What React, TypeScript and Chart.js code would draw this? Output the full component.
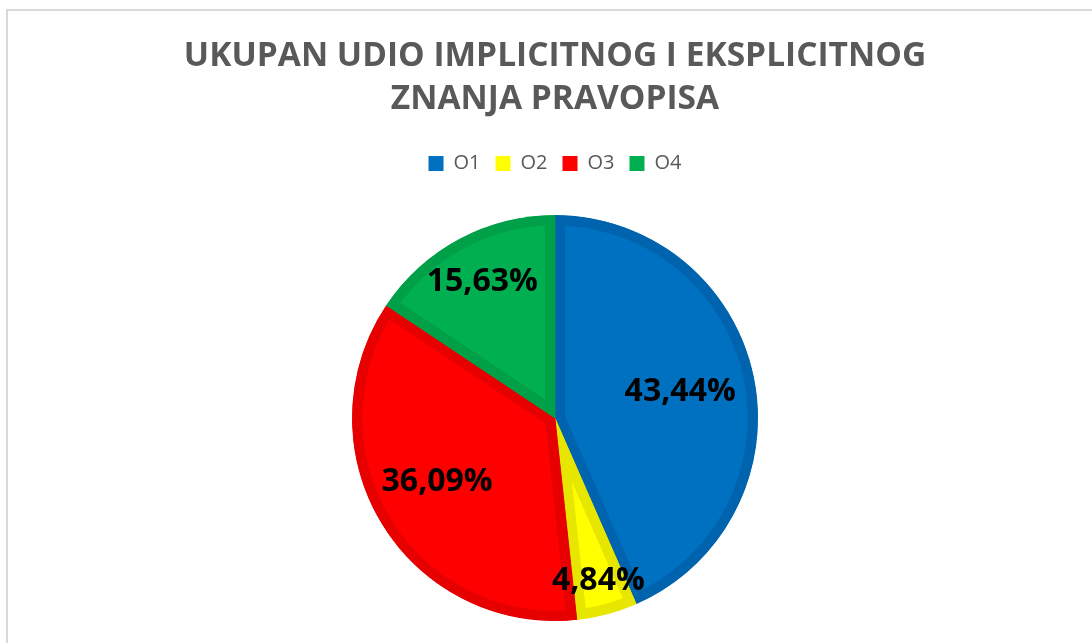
import React, { useEffect, useRef } from "react";
import { Chart, registerables } from "chart.js";

Chart.register(...registerables);

const categories = ["O1", "O2", "O3", "O4"];
const values = [43.44, 4.84, 36.09, 15.63];
const valueLabels = ["43,44%", "4,84%", "36,09%", "15,63%"];
const titleLines = ["UKUPAN UDIO IMPLICITNOG I EKSPLICITNOG", "ZNANJA PRAVOPISA"];

const fillColors = ["#0070C0", "#FFFF00", "#FF0000", "#00B050"];
const borderColors = ["#0063AE", "#E6E600", "#E60000", "#00A048"];
const labelRadiusFractions = [0.63, 0.83, 0.66, 0.76];

const labelPlugin = {
  id: "sliceLabels",
  afterDatasetsDraw(chart: any) {
    const meta = chart.getDatasetMeta(0);
    const ctx = chart.ctx;
    ctx.save();
    ctx.font = "bold 32px 'Open Sans'";
    ctx.fillStyle = "#000000";
    ctx.textAlign = "center";
    ctx.textBaseline = "middle";
    meta.data.forEach((arc: any, i: number) => {
      const p = arc.getProps(["x", "y", "startAngle", "endAngle", "outerRadius"], true);
      const mid = (p.startAngle + p.endAngle) / 2 + (i === 2 ? 0.05 : 0);
      const r = p.outerRadius * labelRadiusFractions[i];
      ctx.fillText(valueLabels[i], p.x + Math.cos(mid) * r, p.y + Math.sin(mid) * r);
    });
    ctx.restore();
  },
};

export default function App() {
  const canvasRef = useRef<HTMLCanvasElement | null>(null);

  useEffect(() => {
    document.body.style.margin = "0";
    const canvas = canvasRef.current;
    if (!canvas) return;
    const chart = new Chart(canvas, {
      type: "pie",
      data: {
        labels: categories,
        datasets: [
          {
            data: values,
            backgroundColor: fillColors,
            borderColor: borderColors,
            borderWidth: 10,
            borderAlign: "inner",
          } as any,
        ],
      },
      options: {
        responsive: false,
        animation: false,
        radius: 203,
        layout: { padding: { left: 18, right: 0, top: 0, bottom: 47.5 } },
        plugins: {
          title: {
            display: true,
            text: titleLines,
            color: "#595959",
            font: { family: "'Open Sans'", size: 33.5, weight: "bold", lineHeight: 1.3 },
            padding: { top: 34.5, bottom: 17 },
          },
          legend: {
            display: true,
            position: "top",
            labels: {
              boxWidth: 15,
              boxHeight: 15,
              padding: 15,
              color: "#595959",
              font: { family: "'Open Sans'", size: 20 },
              generateLabels: (c: any) =>
                categories.map((name, i) => ({
                  text: name,
                  fillStyle: fillColors[i],
                  strokeStyle: fillColors[i],
                  lineWidth: 0,
                  fontColor: "#595959",
                  hidden: false,
                  index: i,
                })),
            },
          },
          tooltip: { enabled: false },
        },
      } as any,
      plugins: [labelPlugin],
    });
    return () => chart.destroy();
  }, []);

  return (
    <div
      style={{
        position: "fixed",
        left: 0,
        top: 0,
        width: 1092,
        height: 643,
        overflow: "hidden",
        background: "#ffffff",
      }}
    >
      <div
        style={{
          position: "absolute",
          left: 6,
          top: 9,
          width: 1200,
          height: 800,
          border: "2px solid #d9d9d9",
          boxSizing: "border-box",
        }}
      />
      <canvas
        ref={canvasRef}
        width={1092}
        height={700}
        style={{ position: "absolute", left: 0, top: 0, width: 1092, height: 700 }}
      />
    </div>
  );
}
